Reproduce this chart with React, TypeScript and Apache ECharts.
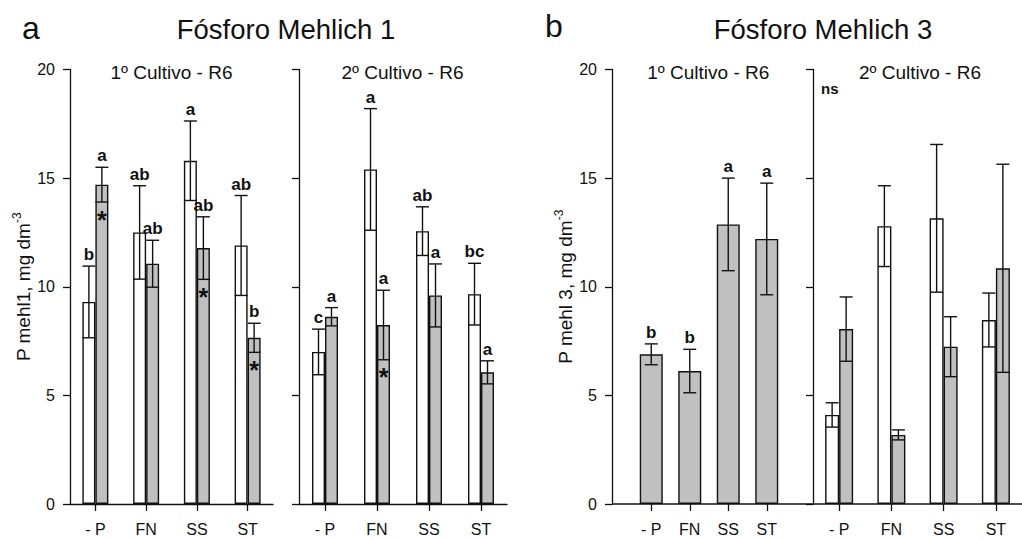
import React, { useEffect, useRef } from "react";
import * as echarts from "echarts";

const categories = ["- P", "FN", "SS", "ST"];
const yTicks = [0, 5, 10, 15, 20];

// Panel a, 1º Cultivo
const a1White = [9.3, 12.5, 15.8, 11.9];
const a1WhiteErr = [1.65, 2.15, 1.83, 2.3];
const a1WhiteLetters = ["b", "ab", "a", "ab"];
const a1Gray = [14.7, 11.06, 11.78, 7.65];
const a1GrayErr = [0.8, 1.08, 1.44, 0.67];
const a1GrayLetters = ["a", "ab", "ab", "b"];
const a1GrayStars = [true, false, true, true];

// Panel a, 2º Cultivo
const a2White = [7.0, 15.4, 12.56, 9.66];
const a2WhiteErr = [1.05, 2.8, 1.12, 1.42];
const a2WhiteLetters = ["c", "a", "ab", "bc"];
const a2Gray = [8.62, 8.24, 9.6, 6.06];
const a2GrayErr = [0.42, 1.6, 1.45, 0.53];
const a2GrayLetters = ["a", "a", "a", "a"];
const a2GrayStars = [false, true, false, false];

// Panel b, 1º Cultivo
const b1Gray = [6.89, 6.12, 12.87, 12.2];
const b1GrayErr = [0.48, 1.0, 2.13, 2.57];
const b1GrayLetters = ["b", "b", "a", "a"];

// Panel b, 2º Cultivo
const b2White = [4.1, 12.79, 13.15, 8.47];
const b2WhiteErr = [0.56, 1.86, 3.4, 1.24];
const b2Gray = [8.05, 3.18, 7.24, 10.85];
const b2GrayErr = [1.48, 0.23, 1.38, 4.79];

const FONT = "'Liberation Sans', Arial, sans-serif";
const INK = "#111";
const GRAY = "#c0c0c0";

function barSeries(g: number, values: number[], color: string, width: number) {
  return {
    type: "bar",
    xAxisIndex: g,
    yAxisIndex: g,
    data: values,
    barWidth: width,
    barGap: "0%",
    itemStyle: { color, borderColor: INK, borderWidth: 1.4 },
    z: 2,
  };
}

function errSeries(
  g: number,
  means: number[],
  errs: number[],
  offset: number,
  letters: string[] | null,
  stars: boolean[] | null
) {
  return {
    type: "custom",
    xAxisIndex: g,
    yAxisIndex: g,
    data: means.map((m, i) => [i, m]),
    encode: { x: 0, y: 1 },
    z: 5,
    clip: false,
    renderItem: (params: any, api: any) => {
      const i = params.dataIndex;
      const top = api.coord([i, means[i] + errs[i]]);
      const bot = api.coord([i, means[i] - errs[i]]);
      const x = top[0] + offset;
      const half = 6.5;
      const ls = { stroke: INK, lineWidth: 1.4 };
      const children: any[] = [
        { type: "line", shape: { x1: x, y1: top[1], x2: x, y2: bot[1] }, style: ls },
        { type: "line", shape: { x1: x - half, y1: top[1], x2: x + half, y2: top[1] }, style: ls },
        { type: "line", shape: { x1: x - half, y1: bot[1], x2: x + half, y2: bot[1] }, style: ls },
      ];
      if (letters && letters[i]) {
        children.push({
          type: "text",
          x,
          y: top[1] - 3,
          style: {
            text: letters[i],
            fontSize: 17,
            fontWeight: "bold",
            fontFamily: FONT,
            fill: INK,
            align: "center",
            verticalAlign: "bottom",
            textAlign: "center",
            textVerticalAlign: "bottom",
          },
        });
      }
      if (stars && stars[i]) {
        children.push({
          type: "text",
          x,
          y: bot[1] + 5,
          style: {
            text: "*",
            fontSize: 25,
            fontWeight: "bold",
            fontFamily: FONT,
            fill: INK,
            align: "center",
            verticalAlign: "top",
            textAlign: "center",
            textVerticalAlign: "top",
          },
        });
      }
      return { type: "group", children };
    },
  };
}

const GRID_TOP = 69.5;
const GRID_H = 434.5;

export default function App() {
  const ref = useRef<HTMLDivElement>(null);
  useEffect(() => {
    if (!ref.current) return;
    const chart = echarts.init(ref.current, null, { renderer: "svg" });
    const grids = [
      { left: 70, top: GRID_TOP, width: 203, height: GRID_H },
      { left: 299, top: GRID_TOP, width: 208, height: GRID_H },
      { left: 632, top: GRID_TOP, width: 154, height: GRID_H },
      { left: 813, top: GRID_TOP, width: 216, height: GRID_H },
    ];
    const lineStyle = { color: INK, width: 1.3 };
    const yNames = [
      "P mehl1, mg dm{sup|-3}",
      "",
      "P mehl 3, mg dm{sup|-3}",
      "",
    ];
    const yAxis = grids.map((_, g) => ({
      gridIndex: g,
      type: "value",
      min: yTicks[0],
      max: yTicks[yTicks.length - 1],
      interval: 5,
      offset: g === 2 ? 20 : 0,
      axisLine: { show: true, lineStyle },
      axisTick: { show: true, length: 7, lineStyle },
      axisLabel: {
        show: g === 0 || g === 2,
        fontSize: 16,
        color: INK,
        fontFamily: FONT,
        margin: 15,
      },
      splitLine: { show: false },
      name: yNames[g],
      nameLocation: "middle",
      nameGap: 35,
      nameRotate: 90,
      nameTextStyle: {
        fontSize: 19,
        color: INK,
        fontFamily: FONT,
        rich: {
          sup: { fontSize: 12, fontFamily: FONT, color: INK, verticalAlign: "top", padding: [0, 0, 12, 0] },
        },
      },
    }));
    const xAxis = grids.map((_, g) => ({
      gridIndex: g,
      type: "category",
      data: categories,
      axisLine: { show: g < 2, lineStyle },
      axisTick: { show: true, alignWithLabel: true, length: 7, lineStyle },
      axisLabel: { fontSize: 16, color: INK, fontFamily: FONT, margin: 17 },
    }));
    const series: any[] = [
      barSeries(0, a1White, "#ffffff", 13),
      barSeries(0, a1Gray, GRAY, 13),
      errSeries(0, a1White, a1WhiteErr, -6.5, a1WhiteLetters, null),
      errSeries(0, a1Gray, a1GrayErr, 6.5, a1GrayLetters, a1GrayStars),
      barSeries(1, a2White, "#ffffff", 13),
      barSeries(1, a2Gray, GRAY, 13),
      errSeries(1, a2White, a2WhiteErr, -6.5, a2WhiteLetters, null),
      errSeries(1, a2Gray, a2GrayErr, 6.5, a2GrayLetters, a2GrayStars),
      barSeries(2, b1Gray, GRAY, 23),
      errSeries(2, b1Gray, b1GrayErr, 0, b1GrayLetters, null),
      barSeries(3, b2White, "#ffffff", 14),
      barSeries(3, b2Gray, GRAY, 14),
      errSeries(3, b2White, b2WhiteErr, -7, null, null),
      errSeries(3, b2Gray, b2GrayErr, 7, null, null),
    ];
    const titleStyle = (text: string, size: number, bold = false) => ({
      text,
      fontSize: size,
      fontFamily: FONT,
      fontWeight: bold ? "bold" : "normal",
      fill: INK,
    });
    chart.setOption({
      animation: false,
      backgroundColor: "#ffffff",
      grid: grids,
      xAxis,
      yAxis,
      series,
      graphic: [
        { type: "text", left: 22, top: 12, style: titleStyle("a", 32) },
        { type: "text", x: 286, y: 29, style: { ...titleStyle("Fósforo Mehlich 1", 27.5), align: "center", verticalAlign: "middle" } },
        { type: "text", left: 545, top: 10, style: titleStyle("b", 32) },
        { type: "text", x: 823, y: 29, style: { ...titleStyle("Fósforo Mehlich 3", 27.5), align: "center", verticalAlign: "middle" } },
        { type: "text", x: 171.5, y: 72, style: { ...titleStyle("1º Cultivo - R6", 19), align: "center", verticalAlign: "middle" } },
        { type: "text", x: 402.5, y: 72, style: { ...titleStyle("2º Cultivo - R6", 19), align: "center", verticalAlign: "middle" } },
        { type: "text", x: 708.3, y: 72, style: { ...titleStyle("1º Cultivo - R6", 19), align: "center", verticalAlign: "middle" } },
        { type: "text", x: 920, y: 72, style: { ...titleStyle("2º Cultivo - R6", 19), align: "center", verticalAlign: "middle" } },
        { type: "text", x: 821, y: 88, style: { ...titleStyle("ns", 15, true), verticalAlign: "middle" } },
        { type: "line", shape: { x1: 612, y1: 504, x2: 1022, y2: 504 }, style: { stroke: INK, lineWidth: 1.3 }, z: 10 },
      ],
    });
    return () => chart.dispose();
  }, []);
  return (
    <div
      ref={ref}
      style={{ position: "fixed", left: 0, top: 0, width: 1022, height: 540, background: "#fff" }}
    />
  );
}
